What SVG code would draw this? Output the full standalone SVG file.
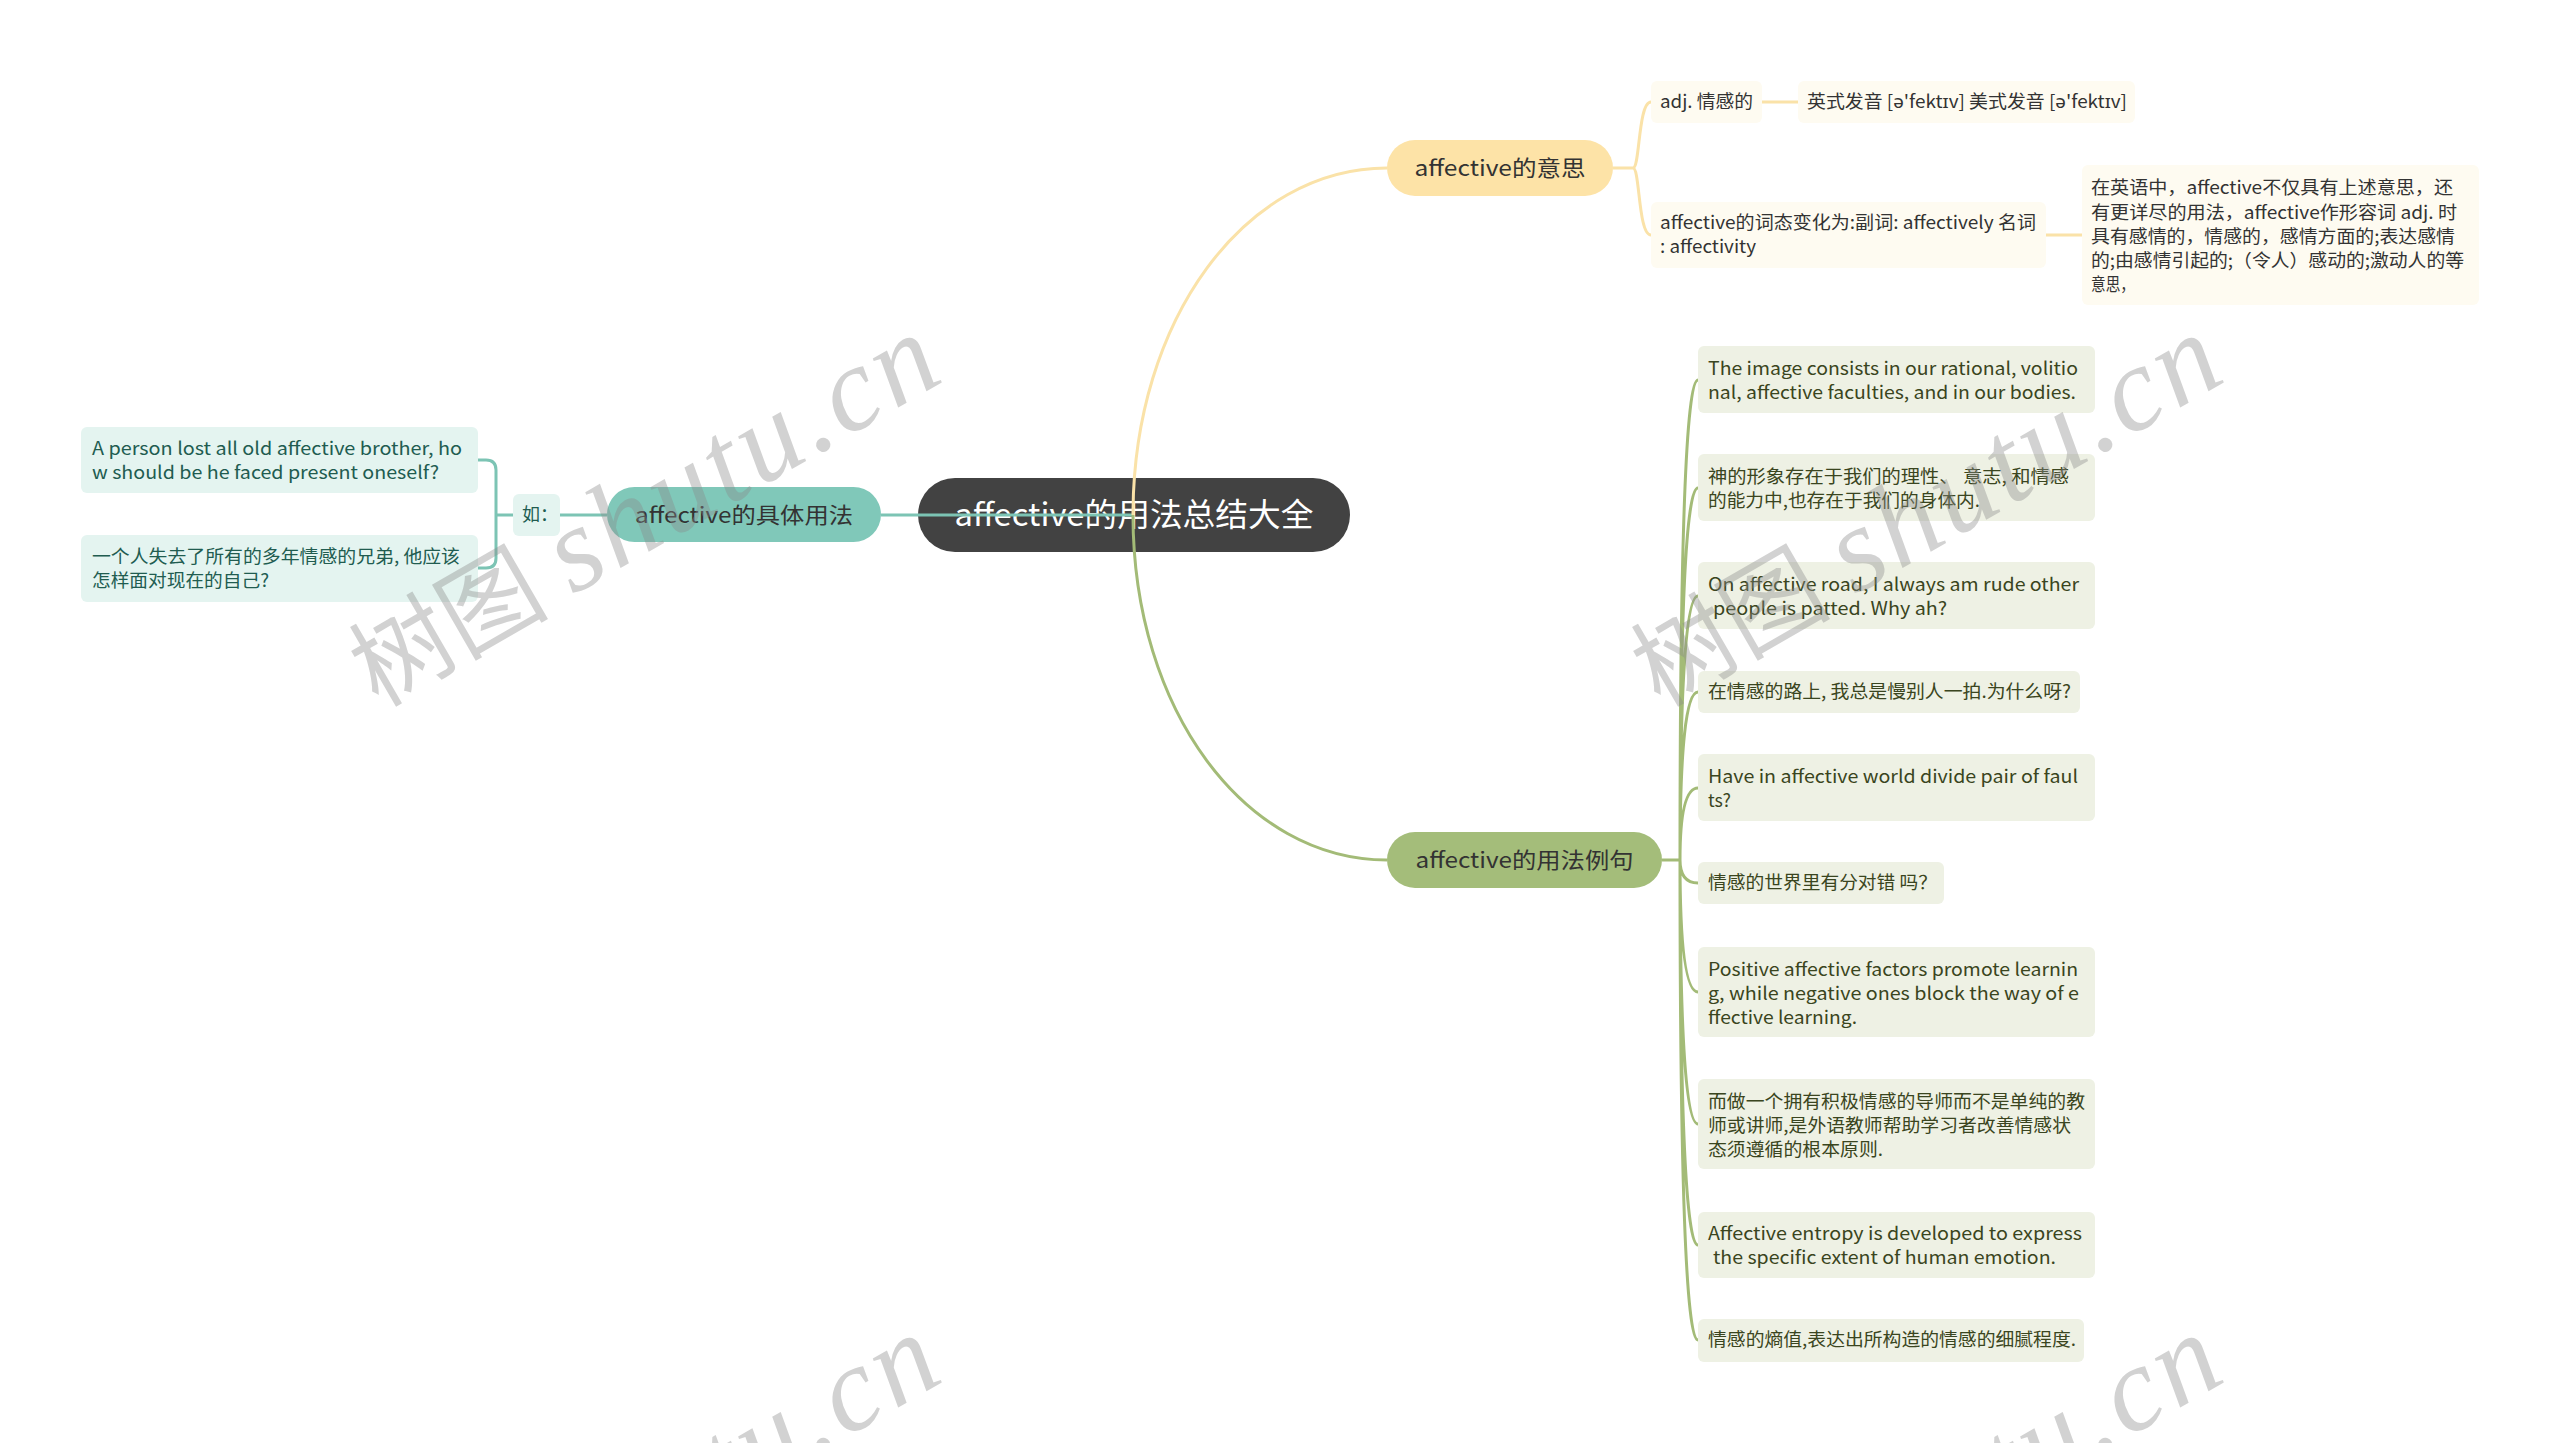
<svg xmlns="http://www.w3.org/2000/svg" width="2560" height="1443" viewBox="0 0 2560 1443">
<style>
text{font-family:"Noto Sans CJK SC","Noto Sans",sans-serif;}
.ch{font-size:18px;}
.br{font-size:22px;fill:#333;text-anchor:middle;}
.rt{font-size:32px;fill:#fff;text-anchor:middle;}
.yc rect{fill:#fefbf1;}
.yc text{fill:#333;}
.gc rect{fill:#eef1e4;}
.gc text{fill:#3a4520;}
.tc rect{fill:#e4f4f0;}
.tc text{fill:#215c50;}
.cy{fill:none;stroke:#fae2a8;stroke-width:3;}
.cg{fill:none;stroke:#a3bb77;stroke-width:3;}
.ct{fill:none;stroke:#7cc4b4;stroke-width:3;}
.wm text{fill:#8a8a8a;opacity:0.38;}
.wc{font-family:"Noto Sans CJK SC",serif;font-size:100px;}
.wl{font-family:"Liberation Serif",serif;font-style:italic;font-size:120px;letter-spacing:4px;}
</style>
<rect width="2560" height="1443" fill="#fff"/>

<g id="root">
<rect x="918" y="478" width="432" height="74" rx="37" fill="#424242"/>
<text class="rt" x="1134" y="526" textLength="359" lengthAdjust="spacingAndGlyphs">affective的用法总结大全</text>
</g>

<g id="branch-meaning">
<rect x="1387" y="140" width="226" height="56" rx="28" fill="#fde3a7"/>
<text class="br" x="1500" y="176" textLength="171" lengthAdjust="spacingAndGlyphs">affective的意思</text>
</g>
<g id="branch-examples">
<rect x="1387" y="832" width="275" height="56" rx="28" fill="#a4bd7a"/>
<text class="br" x="1524.5" y="868" textLength="218" lengthAdjust="spacingAndGlyphs">affective的用法例句</text>
</g>
<g id="branch-usage">
<rect x="607" y="487" width="274" height="55" rx="27.5" fill="#80c8b9"/>
<text class="br" x="744" y="523" textLength="218" lengthAdjust="spacingAndGlyphs">affective的具体用法</text>
</g>

<g id="y-adj" class="yc">
<rect x="1651" y="81" width="111" height="42" rx="6"/>
<text class="ch" x="1660" y="108" textLength="93" lengthAdjust="spacingAndGlyphs">adj. 情感的</text>
</g>
<g id="y-pron" class="yc">
<rect x="1798" y="81" width="337" height="42" rx="6"/>
<text class="ch" x="1807" y="108" textLength="320" lengthAdjust="spacingAndGlyphs">英式发音 [ə'fektɪv] 美式发音 [ə'fektɪv]</text>
</g>
<g id="y-forms" class="yc">
<rect x="1651" y="202" width="395" height="66" rx="6"/>
<text class="ch" x="1660" y="229" textLength="376" lengthAdjust="spacingAndGlyphs">affective的词态变化为:副词: affectively 名词</text>
<text class="ch" x="1660" y="253" textLength="96" lengthAdjust="spacingAndGlyphs">: affectivity</text>
</g>
<g id="y-detail" class="yc">
<rect x="2082" y="165" width="397" height="140" rx="6"/>
<text class="ch" x="2091" y="194" textLength="362" lengthAdjust="spacingAndGlyphs">在英语中，affective不仅具有上述意思，还</text>
<text class="ch" x="2091" y="219" textLength="366" lengthAdjust="spacingAndGlyphs">有更详尽的用法，affective作形容词 adj. 时</text>
<text class="ch" x="2091" y="243" textLength="364" lengthAdjust="spacingAndGlyphs">具有感情的，情感的，感情方面的;表达感情</text>
<text class="ch" x="2091" y="267" textLength="373" lengthAdjust="spacingAndGlyphs">的;由感情引起的;（令人）感动的;激动人的等</text>
<text class="ch" x="2091" y="291" textLength="44" lengthAdjust="spacingAndGlyphs">意思，</text>
</g>

<g id="g1" class="gc">
<rect x="1698" y="346" width="397" height="67" rx="6"/>
<text class="ch" x="1708" y="375" textLength="370" lengthAdjust="spacingAndGlyphs">The image consists in our rational, volitio</text>
<text class="ch" x="1708" y="399" textLength="368" lengthAdjust="spacingAndGlyphs">nal, affective faculties, and in our bodies.</text>
</g>
<g id="g2" class="gc">
<rect x="1698" y="454" width="397" height="67" rx="6"/>
<text class="ch" x="1708" y="483" textLength="361" lengthAdjust="spacingAndGlyphs">神的形象存在于我们的理性、 意志, 和情感</text>
<text class="ch" x="1708" y="507" textLength="272" lengthAdjust="spacingAndGlyphs">的能力中,也存在于我们的身体内.</text>
</g>
<g id="g3" class="gc">
<rect x="1698" y="562" width="397" height="67" rx="6"/>
<text class="ch" x="1708" y="591" textLength="371" lengthAdjust="spacingAndGlyphs">On affective road, I always am rude other</text>
<text class="ch" x="1713" y="615" textLength="234" lengthAdjust="spacingAndGlyphs">people is patted. Why ah?</text>
</g>
<g id="g4" class="gc">
<rect x="1698" y="671" width="382" height="42" rx="6"/>
<text class="ch" x="1708" y="698" textLength="363" lengthAdjust="spacingAndGlyphs">在情感的路上, 我总是慢别人一拍.为什么呀?</text>
</g>
<g id="g5" class="gc">
<rect x="1698" y="754" width="397" height="67" rx="6"/>
<text class="ch" x="1708" y="783" textLength="370" lengthAdjust="spacingAndGlyphs">Have in affective world divide pair of faul</text>
<text class="ch" x="1708" y="807" textLength="23" lengthAdjust="spacingAndGlyphs">ts?</text>
</g>
<g id="g6" class="gc">
<rect x="1698" y="862" width="246" height="42" rx="6"/>
<text class="ch" x="1708" y="889" textLength="229" lengthAdjust="spacingAndGlyphs">情感的世界里有分对错 吗？</text>
</g>
<g id="g7" class="gc">
<rect x="1698" y="947" width="397" height="90" rx="6"/>
<text class="ch" x="1708" y="976" textLength="370" lengthAdjust="spacingAndGlyphs">Positive affective factors promote learnin</text>
<text class="ch" x="1708" y="1000" textLength="371" lengthAdjust="spacingAndGlyphs">g, while negative ones block the way of e</text>
<text class="ch" x="1708" y="1024" textLength="149" lengthAdjust="spacingAndGlyphs">ffective learning.</text>
</g>
<g id="g8" class="gc">
<rect x="1698" y="1079" width="397" height="90" rx="6"/>
<text class="ch" x="1708" y="1108" textLength="377" lengthAdjust="spacingAndGlyphs">而做一个拥有积极情感的导师而不是单纯的教</text>
<text class="ch" x="1708" y="1132" textLength="363" lengthAdjust="spacingAndGlyphs">师或讲师,是外语教师帮助学习者改善情感状</text>
<text class="ch" x="1708" y="1156" textLength="175" lengthAdjust="spacingAndGlyphs">态须遵循的根本原则.</text>
</g>
<g id="g9" class="gc">
<rect x="1698" y="1212" width="397" height="66" rx="6"/>
<text class="ch" x="1708" y="1240" textLength="374" lengthAdjust="spacingAndGlyphs">Affective entropy is developed to express</text>
<text class="ch" x="1713" y="1264" textLength="343" lengthAdjust="spacingAndGlyphs">the specific extent of human emotion.</text>
</g>
<g id="g10" class="gc">
<rect x="1698" y="1319" width="386" height="43" rx="6"/>
<text class="ch" x="1708" y="1346" textLength="368" lengthAdjust="spacingAndGlyphs">情感的熵值,表达出所构造的情感的细腻程度.</text>
</g>

<g id="t-ru" class="tc">
<rect x="513" y="494" width="47" height="42" rx="6"/>
<text class="ch" x="522" y="521">如：</text>
</g>
<g id="t1" class="tc">
<rect x="81" y="427" width="397" height="66" rx="6"/>
<text class="ch" x="92" y="455" textLength="370" lengthAdjust="spacingAndGlyphs">A person lost all old affective brother, ho</text>
<text class="ch" x="92" y="479" textLength="347" lengthAdjust="spacingAndGlyphs">w should be he faced present oneself?</text>
</g>
<g id="t2" class="tc">
<rect x="81" y="535" width="397" height="67" rx="6"/>
<text class="ch" x="92" y="563" textLength="368" lengthAdjust="spacingAndGlyphs">一个人失去了所有的多年情感的兄弟, 他应该</text>
<text class="ch" x="92" y="587" textLength="177" lengthAdjust="spacingAndGlyphs">怎样面对现在的自己?</text>
</g>

<g id="connectors">
<path class="ct" d="M1133 515 H881"/>
<path class="ct" d="M607 515 H560"/>
<path class="ct" d="M513 515 H496 M496 515 V470 Q496 460 486 460 H478 M496 515 V558 Q496 568 486 568 H478"/>
<path class="cy" d="M1133 515 C1133 320 1245 168 1387 168"/>
<path class="cy" d="M1613 168 H1633 C1640 168 1638 102 1651 102 M1633 168 C1640 168 1638 235 1651 235"/>
<path class="cy" d="M1762 102 H1798 M2046 235 H2082"/>
<path class="cg" d="M1133 515 C1133 710 1245 860 1387 860"/>
<path class="cg" stroke-width="2.5" d="M1662 860 H1680 M1680 860 Q1680 380 1698 380 M1680 860 Q1680 488 1698 488 M1680 860 Q1680 596 1698 596 M1680 860 Q1680 692 1698 692 M1680 860 Q1680 788 1698 788 M1680 860 Q1680 883 1698 883 M1680 860 Q1680 992 1698 992 M1680 860 Q1680 1124 1698 1124 M1680 860 Q1680 1245 1698 1245 M1680 860 Q1680 1340 1698 1340"/>
</g>

<g class="wm">
<text transform="translate(378,708) rotate(-30)"><tspan class="wc">树图</tspan><tspan class="wl" dx="25">shutu.cn</tspan></text>
<text transform="translate(1660,708) rotate(-30)"><tspan class="wc">树图</tspan><tspan class="wl" dx="25">shutu.cn</tspan></text>
<text transform="translate(378,1708) rotate(-30)"><tspan class="wc">树图</tspan><tspan class="wl" dx="25">shutu.cn</tspan></text>
<text transform="translate(1660,1708) rotate(-30)"><tspan class="wc">树图</tspan><tspan class="wl" dx="25">shutu.cn</tspan></text>
</g>
</svg>
